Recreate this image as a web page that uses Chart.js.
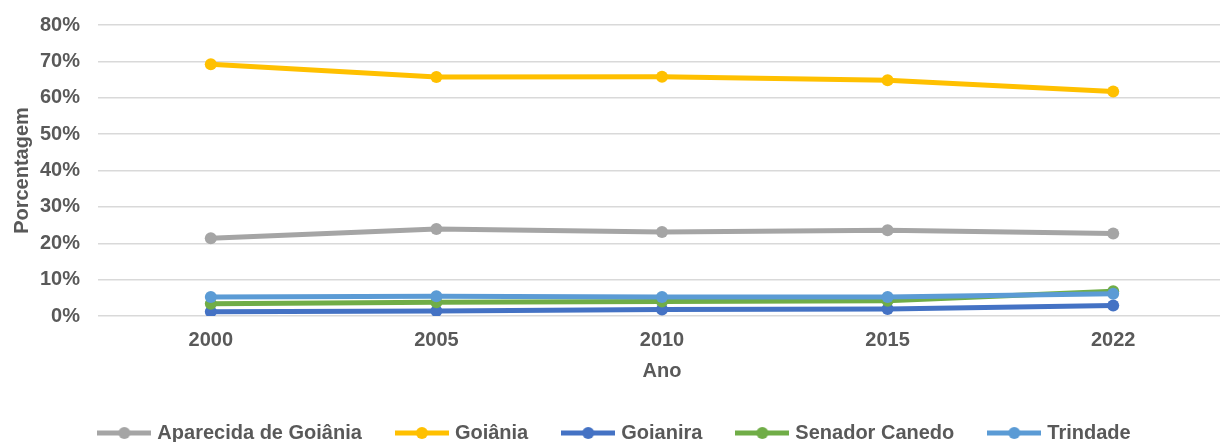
<!DOCTYPE html>
<html>
<head>
<meta charset="utf-8">
<script src="https://cdn.jsdelivr.net/npm/chart.js@4.4.1/dist/chart.umd.min.js"></script>
<style>
html,body{margin:0;padding:0;background:#fff;overflow:hidden;width:1220px;height:442px;}
#wrap{width:1232px;height:453px;}
</style>
</head>
<body>
<div id="wrap"><canvas id="c" width="1232" height="453"></canvas></div>
<script>
const years = ['2000', '2005', '2010', '2015', '2022'];
const aparecida = [21.4, 23.9, 23.1, 23.6, 22.7];
const goiania = [69.2, 65.7, 65.8, 64.8, 61.7];
const goianira = [1.2, 1.4, 1.8, 1.9, 2.9];
const senadorCanedo = [3.4, 3.8, 4.0, 4.2, 6.8];
const trindade = [5.2, 5.4, 5.2, 5.2, 6.1];
const yTicks = [0, 10, 20, 30, 40, 50, 60, 70, 80];

const names = ['Aparecida de Goiânia', 'Goiânia', 'Goianira', 'Senador Canedo', 'Trindade'];
const series = [aparecida, goiania, goianira, senadorCanedo, trindade];
const colors = ['#a5a5a5', '#ffc000', '#4472c4', '#70ad47', '#5b9bd5'];
const TXT = '#595959';
const FONT = "'Liberation Sans', Arial, sans-serif";

function legendIcon(color) {
  const cv = document.createElement('canvas');
  cv.width = 54; cv.height = 14;
  const g = cv.getContext('2d');
  g.strokeStyle = color; g.lineWidth = 5;
  g.beginPath(); g.moveTo(0, 7); g.lineTo(54, 7); g.stroke();
  g.fillStyle = color;
  g.beginPath(); g.arc(27, 7, 6, 0, Math.PI * 2); g.fill();
  return cv;
}
const icons = colors.map(legendIcon);

Chart.defaults.font.family = FONT;
Chart.defaults.color = TXT;

new Chart(document.getElementById('c'), {
  type: 'line',
  data: {
    labels: years,
    datasets: series.map((d, i) => ({
      label: names[i],
      data: d,
      borderColor: colors[i],
      backgroundColor: colors[i],
      borderWidth: 5,
      pointRadius: 6,
      pointHoverRadius: 6,
      pointBorderWidth: 0,
      tension: 0,
      order: 5 - i
    }))
  },
  options: {
    responsive: false,
    devicePixelRatio: 1,
    animation: false,
    layout: { padding: { top: 25, left: 0, right: 0, bottom: 0 } },
    plugins: {
      tooltip: { enabled: false },
      legend: {
        position: 'bottom',
        labels: {
          usePointStyle: true,
          pointStyleWidth: 46,
          padding: 37,
          color: TXT,
          font: { family: FONT, size: 20, weight: 'bold' },
          sort: (a, b) => a.datasetIndex - b.datasetIndex,
          generateLabels: (chart) => {
            const items = Chart.defaults.plugins.legend.labels.generateLabels(chart);
            items.forEach(it => { it.pointStyle = icons[it.datasetIndex]; });
            return items;
          }
        }
      }
    },
    scales: {
      x: {
        type: 'category',
        offset: true,
        grid: { display: false, drawTicks: false },
        border: { display: false },
        ticks: { padding: 12, color: TXT, font: { family: FONT, size: 20, weight: 'bold' } },
        title: { display: true, text: 'Ano', color: TXT, font: { family: FONT, size: 20, weight: 'bold' }, padding: { top: 0, bottom: 3 } },
        afterFit: (s) => { s.height = 70; s.paddingLeft = 0; s.paddingRight = 0; }
      },
      y: {
        min: 0, max: 80,
        afterBuildTicks: (s) => { s.ticks = yTicks.map(v => ({ value: v })); },
        grid: { color: '#d9d9d9', lineWidth: 1.5, drawTicks: false },
        border: { display: false },
        ticks: { padding: 18, color: TXT, font: { family: FONT, size: 20, weight: 'bold' }, callback: (v) => v + '%' },
        title: { display: true, text: 'Porcentagem', color: TXT, font: { family: FONT, size: 20, weight: 'bold' }, padding: { top: 10, bottom: 0 } },
        afterFit: (s) => { s.width = 98; s.paddingTop = 0; s.paddingBottom = 0; }
      }
    }
  }
});
</script>
</body>
</html>
